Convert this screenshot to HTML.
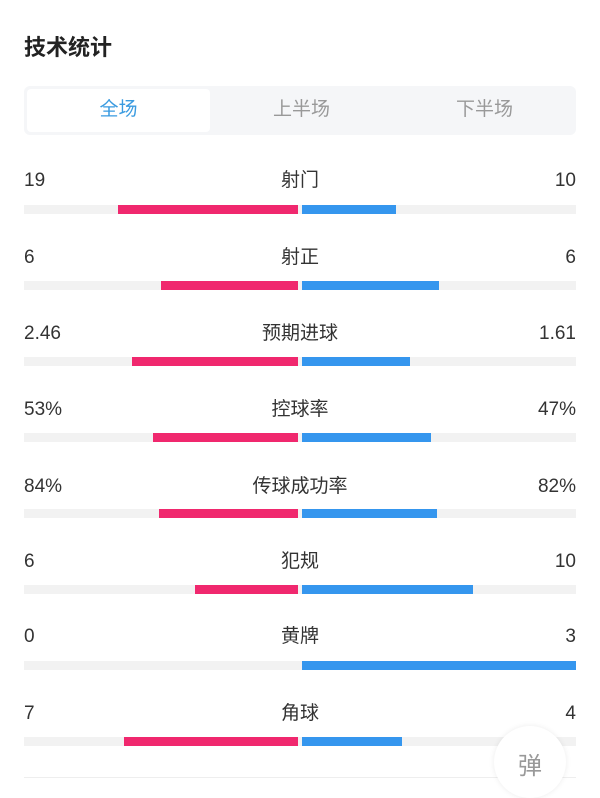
<!DOCTYPE html><html><head><meta charset="utf-8"><style>
body{margin:0;width:600px;height:790px;background:#fff;position:relative;overflow:hidden;font-family:"Liberation Sans","Noto Sans CJK SC",sans-serif;color:#333}
.a{position:absolute}
.t{font-size:19px;line-height:24px}
.track{position:absolute;left:24px;width:552px;height:9px;background:#f2f2f2}
.r{position:absolute;height:9px;background:#f0286e}
.b{position:absolute;height:9px;background:#3596ee}
</style></head><body>
<div class="a" style="left:24px;top:30px;font-size:22px;font-weight:bold;color:#222">技术统计</div>
<div class="a" style="left:24px;top:86px;width:552px;height:49px;background:#f5f6f8;border-radius:6px"></div>
<div class="a" style="left:27px;top:89px;width:183px;height:43px;background:#fff;border-radius:4px"></div>
<div class="a t" style="left:27px;top:98px;width:183px;text-align:center;color:#3a9be0;font-size:19px">全场</div>
<div class="a t" style="left:210px;top:98px;width:183px;text-align:center;color:#999">上半场</div>
<div class="a t" style="left:393px;top:98px;width:183px;text-align:center;color:#999">下半场</div>
<div id="rows"></div>
<div class="a" style="left:24px;top:777px;width:552px;height:1px;background:#eee"></div>
<div class="a" style="left:494px;top:726px;width:72px;height:72px;border-radius:50%;background:#fff;box-shadow:0 0 6px rgba(0,0,0,0.08)"></div>
<div class="a" style="left:494px;top:746px;width:72px;text-align:center;font-size:24px;color:#999">弹</div>
<script>
var d=[["19","射门","10",181,205,118,396],["6","射正","6",258,281,161,439],["2.46","预期进球","1.61",334,357,132,410],["53%","控球率","47%",410,433,153,431],["84%","传球成功率","82%",487,509,159,437],["6","犯规","10",562,585,195,473],["0","黄牌","3",637,661,298,576],["7","角球","4",714,737,124,402]];
var h="";d.forEach(function(r){var ty=r[3]-12;
h+='<div class="a t" style="left:24px;top:'+ty+'px">'+r[0]+'</div>';
h+='<div class="a t" style="left:200px;width:200px;text-align:center;top:'+ty+'px">'+r[1]+'</div>';
h+='<div class="a t" style="right:24px;top:'+ty+'px">'+r[2]+'</div>';
h+='<div class="track" style="top:'+r[4]+'px"></div>';
if(r[5]<298)h+='<div class="r" style="top:'+r[4]+'px;left:'+r[5]+'px;width:'+(298-r[5])+'px"></div>';
h+='<div class="b" style="top:'+r[4]+'px;left:302px;width:'+(r[6]-302)+'px"></div>';});
document.getElementById("rows").innerHTML=h;
</script>
</body></html>
